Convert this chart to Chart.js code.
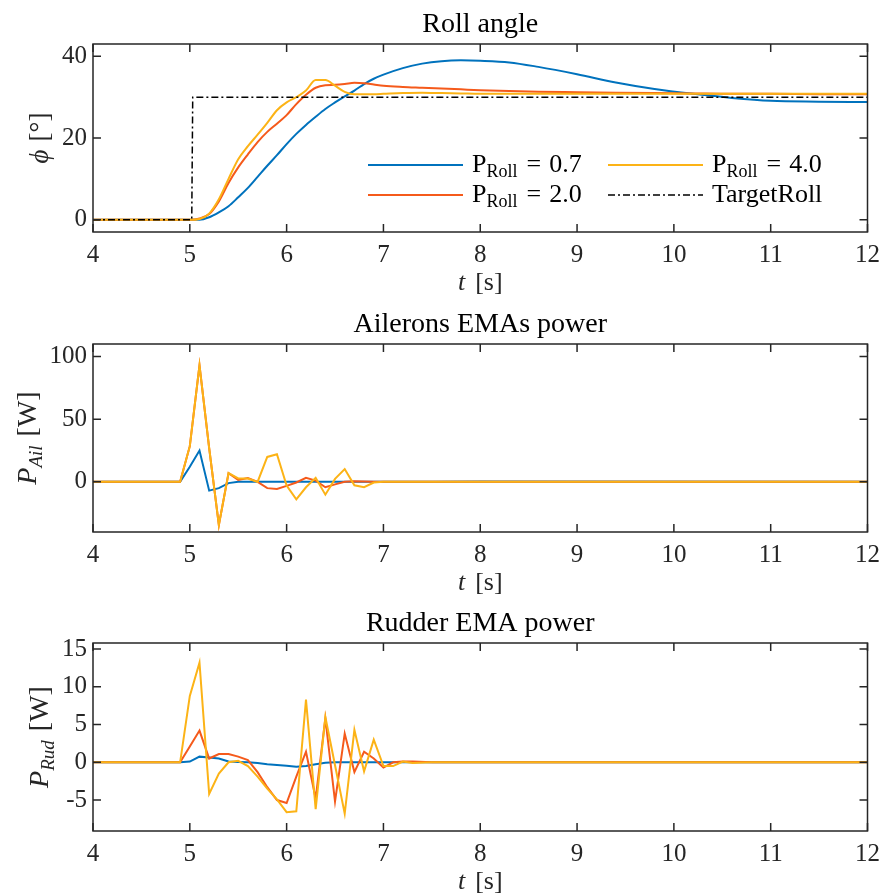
<!DOCTYPE html>
<html>
<head>
<meta charset="utf-8">
<title>Roll response</title>
<script src="https://cdn.jsdelivr.net/npm/chart.js@4.4.1/dist/chart.umd.min.js"></script>
<style>
  html, body { margin: 0; padding: 0; background: #fff; overflow: hidden; }
  .panel { position: absolute; left: 0; width: 888px; height: 300px; }
</style>
</head>
<body>
<div class="panel" style="top:0px"><canvas id="roll-chart" width="888" height="300"></canvas></div>
<div class="panel" style="top:300px"><canvas id="ail-chart" width="888" height="300"></canvas></div>
<div class="panel" style="top:599px"><canvas id="rud-chart" width="888" height="300"></canvas></div>
<script>
// Roll gains of the three runs
const gains = ['0.7', '2.0', '4.0'];

// Roll angle [deg] sampled at tRoll [s]
const tRoll = [4, 5, 5.1, 5.2, 5.3, 5.4, 5.5, 5.6, 5.7, 5.8, 5.9, 6.0, 6.1, 6.2, 6.3, 6.4, 6.5, 6.6, 6.7, 6.8, 6.9, 7.0,
    7.2, 7.4, 7.6, 7.8, 8.0, 8.3, 8.6, 9.0, 9.4, 9.8, 10.2, 10.6, 11.0, 11.5, 12.0];
const rollP07 = [0, 0, 0, 0.6, 1.8, 3.3, 5.5, 7.8, 10.5, 13.2, 15.8, 18.5, 21.0, 23.2, 25.2, 27.1, 28.7, 30.2, 31.6, 33.2, 34.5, 35.5,
    37.1, 38.2, 38.8, 39.0, 38.9, 38.5, 37.4, 35.6, 33.6, 32.0, 30.8, 29.8, 29.1, 28.9, 28.8];
const rollP20 = [0, 0, 0.3, 1.4, 4.5, 9.0, 12.8, 16.0, 19.0, 21.5, 23.5, 25.6, 28.3, 30.6, 32.3, 32.9, 33.0, 33.2, 33.5, 33.4, 33.1, 32.8,
    32.5, 32.3, 32.1, 31.9, 31.7, 31.5, 31.3, 31.2, 31.1, 31.0, 30.9, 30.8, 30.8, 30.7, 30.7];
const rollP40 = [0, 0, 0.2, 1.5, 5.0, 10.0, 14.8, 18.0, 20.8, 23.7, 26.8, 28.7, 30.0, 31.6, 34.2, 34.2, 32.8, 31.3, 30.7, 30.7, 30.7, 30.8,
    31.0, 31.1, 31.0, 30.9, 30.8, 30.8, 30.8, 30.8, 30.8, 30.8, 30.8, 30.8, 30.8, 30.8, 30.8];
const tTarget = [4, 5.02, 5.03, 12];
const targetRoll = [0, 0, 30, 30];

// EMA power [W] sampled at tPow [s]
const tPow = [4.0, 4.9, 5.0, 5.1, 5.2, 5.3, 5.4, 5.5, 5.6, 5.7, 5.8, 5.9, 6.0, 6.1, 6.2, 6.3, 6.4, 6.5, 6.6, 6.7, 6.8, 6.9,
    7.0, 7.1, 7.2, 7.3, 7.5, 8.0, 12.0];
const ailP07 = [0, 0, 12, 25, -7, -5, -1, 0, 0, 0, 0, 0, 0, 0, 0, 0, 0, 0, 0, 0, 0, 0,
    0, 0, 0, 0, 0, 0.3, 0];
const ailP20 = [0, 0, 28.5, 93, 27, -34.4, 7, 1.6, 3, 0, -5, -5.6, -3.2, -0.5, 3.2, 1, -4.3, -2, 0, 0.5, 0.3, 0,
    0, 0, 0, 0, 0, 0, 0];
const ailP40 = [0, 0, 28.5, 93, 27, -34.4, 7, 2.7, 2.7, 0, 19.9, 22, -3, -14, -4.3, 3.2, -10.2, 2.4, 10.2, -2.7, -4.3, -0.5,
    0, 0, 0, 0, 0, 0, 0];
const rudP07 = [0, 0, 0.1, 0.75, 0.65, 0.5, 0.1, 0.05, 0, -0.1, -0.25, -0.35, -0.45, -0.6, -0.5, -0.25, -0.05, 0, 0, 0, 0, 0,
    0, 0, 0, 0, 0, 0, 0];
const rudP20 = [0, 0, 2.1, 4.2, 0.5, 1.1, 1.1, 0.75, 0.3, -1.3, -3.3, -5.0, -5.4, -1.9, 1.4, -4.8, 5.8, -5.2, 3.8, -1.3, 1.4, 0.5,
    -0.7, 0, 0.1, 0.1, 0, 0, 0];
const rudP40 = [0, 0, 8.8, 13.2, -4.2, -1.5, 0, 0.2, -0.5, -1.9, -3.5, -4.9, -6.6, -6.5, 8.3, -6.2, 6.0, -0.4, -6.8, 4.3, -1.2, 3.0,
    -0.5, -0.5, 0.1, -0.1, 0, 0, 0];

// tick labels
const xTicks = [4, 5, 6, 7, 8, 9, 10, 11, 12];
const rollTicks = [0, 20, 40];
const ailTicks = [0, 50, 100];
const rudTicks = [-5, 0, 5, 10, 15];

const FONT = "'Liberation Serif', 'Times New Roman', serif";
const AXIS_COLOR = '#262626';
const colors = ['#0072BD', '#F55A1B', '#FCB316'];

// draw a row of text pieces: [text, size, italic, dy, gapAfter]
function drawParts(ctx, parts, x, y, align) {
    let total = 0;
    parts.forEach(p => {
        ctx.font = (p[2] ? 'italic ' : '') + p[1] + 'px ' + FONT;
        p.w = ctx.measureText(p[0]).width + (p[4] || 0);
        total += p.w;
    });
    let cx = align === 'center' ? x - total / 2 : x;
    ctx.textAlign = 'left';
    ctx.textBaseline = 'alphabetic';
    parts.forEach(p => {
        ctx.font = (p[2] ? 'italic ' : '') + p[1] + 'px ' + FONT;
        ctx.fillText(p[0], cx, y + (p[3] || 0));
        cx += p.w;
    });
}

// box with inward ticks on all four sides + axis labels
const boxAxes = {
    id: 'boxAxes',
    afterDatasetsDraw(chart, args, opts) {
        const { ctx, chartArea: a, scales: { x, y } } = chart;
        ctx.save();
        ctx.strokeStyle = AXIS_COLOR;
        ctx.lineWidth = 1.5;
        ctx.strokeRect(a.left, a.top, a.width, a.height);
        ctx.beginPath();
        x.ticks.forEach(t => {
            const px = x.getPixelForValue(t.value);
            ctx.moveTo(px, a.bottom); ctx.lineTo(px, a.bottom - 8);
            ctx.moveTo(px, a.top); ctx.lineTo(px, a.top + 8);
        });
        y.ticks.forEach(t => {
            const py = y.getPixelForValue(t.value);
            ctx.moveTo(a.left, py); ctx.lineTo(a.left + 8, py);
            ctx.moveTo(a.right, py); ctx.lineTo(a.right - 8, py);
        });
        ctx.stroke();

        ctx.fillStyle = AXIS_COLOR;
        // x label: t [s]
        drawParts(ctx, [['t', 26, true, 0, 10], ['[s]', 26, false]], (a.left + a.right) / 2, a.bottom + 58, 'center');
        // y label, rotated
        ctx.translate(opts.yLabelX, (a.top + a.bottom) / 2);
        ctx.rotate(-Math.PI / 2);
        drawParts(ctx, opts.yLabel, 0, 0, 'center');
        ctx.restore();
    }
};

// legend with subscripts, drawn inside the roll plot
const rollLegend = {
    id: 'rollLegend',
    afterDraw(chart) {
        const { ctx, chartArea: a } = chart;
        const ds = chart.data.datasets;
        const cells = [[275, 121], [275, 151], [515, 121], [515, 151]];
        ctx.save();
        ds.forEach((d, i) => {
            const lx = a.left + cells[i][0], ly = a.top + cells[i][1];
            ctx.strokeStyle = d.borderColor;
            ctx.lineWidth = d.borderWidth;
            ctx.setLineDash(d.borderDash || []);
            ctx.beginPath();
            ctx.moveTo(lx, ly); ctx.lineTo(lx + 95, ly);
            ctx.stroke();
            ctx.setLineDash([]);
            ctx.fillStyle = '#000';
            const parts = i < gains.length
                ? [['P', 26, false], ['Roll', 18, false, 5, 9], ['=', 26, false, 0, 8], [gains[i], 26, false]]
                : [[d.label, 26, false]];
            drawParts(ctx, parts, lx + 104, ly + 7, 'left');
        });
        ctx.restore();
    }
};

function series(label, t, v, color, order, extra) {
    return Object.assign({
        label: label,
        data: t.map((x, i) => ({ x: x, y: v[i] })),
        borderColor: color,
        backgroundColor: color,
        borderWidth: 2,
        pointRadius: 0,
        fill: false,
        order: order
    }, extra || {});
}

function makeChart(id, title, datasets, yMin, yMax, yTicks, yLabel, yLabelX, extraPlugins) {
    return new Chart(document.getElementById(id), {
        type: 'line',
        data: { datasets: datasets },
        options: {
            responsive: false,
            animation: false,
            events: [],
            layout: { padding: { left: 0, right: 0, top: 0, bottom: 0 } },
            scales: {
                x: {
                    type: 'linear',
                    min: 4,
                    max: 12,
                    afterBuildTicks: s => { s.ticks = xTicks.map(v => ({ value: v })); },
                    afterFit: s => { s.height = 68; },
                    grid: { display: false, drawTicks: false },
                    border: { display: false },
                    ticks: { color: AXIS_COLOR, font: { family: FONT, size: 25 }, padding: 8, maxRotation: 0, autoSkip: false }
                },
                y: {
                    type: 'linear',
                    min: yMin,
                    max: yMax,
                    afterBuildTicks: s => { s.ticks = yTicks.map(v => ({ value: v })); },
                    afterFit: s => { s.width = 93; },
                    grid: { display: false, drawTicks: false },
                    border: { display: false },
                    ticks: { color: AXIS_COLOR, font: { family: FONT, size: 25 }, padding: 6 }
                }
            },
            plugins: {
                legend: { display: false },
                tooltip: { enabled: false },
                title: {
                    display: true,
                    fullSize: false,
                    text: title,
                    color: '#000',
                    font: { family: FONT, size: 28, weight: 'normal', lineHeight: 1.2 },
                    padding: { top: 7.5, bottom: 2.9 }
                },
                boxAxes: { yLabel: yLabel, yLabelX: yLabelX }
            }
        },
        plugins: [boxAxes].concat(extraPlugins || [])
    });
}

const smooth = { cubicInterpolationMode: 'monotone' };

makeChart('roll-chart', 'Roll angle', [
    series('P_Roll = ' + gains[0], tRoll, rollP07, colors[0], 3, smooth),
    series('P_Roll = ' + gains[1], tRoll, rollP20, colors[1], 2, smooth),
    series('P_Roll = ' + gains[2], tRoll, rollP40, colors[2], 1, smooth),
    series('TargetRoll', tTarget, targetRoll, '#000', 0, { borderWidth: 1.5, borderDash: [7, 3, 2, 3] })
], -3, 43, rollTicks, [['\u03D5', 27, true, 0, 8], ['[\u00B0]', 27, false]], 48, [rollLegend]);

makeChart('ail-chart', 'Ailerons EMAs power', [
    series('P_Roll = ' + gains[0], tPow, ailP07, colors[0], 3),
    series('P_Roll = ' + gains[1], tPow, ailP20, colors[1], 2),
    series('P_Roll = ' + gains[2], tPow, ailP40, colors[2], 1)
], -40, 110, ailTicks, [['P', 28, true], ['Ail', 19, true, 6, 9], ['[W]', 28, false]], 36);

makeChart('rud-chart', 'Rudder EMA power', [
    series('P_Roll = ' + gains[0], tPow, rudP07, colors[0], 3),
    series('P_Roll = ' + gains[1], tPow, rudP20, colors[1], 2),
    series('P_Roll = ' + gains[2], tPow, rudP40, colors[2], 1)
], -9.1, 15.8, rudTicks, [['P', 28, true], ['Rud', 19, true, 6, 9], ['[W]', 28, false]], 48);
</script>
</body>
</html>
